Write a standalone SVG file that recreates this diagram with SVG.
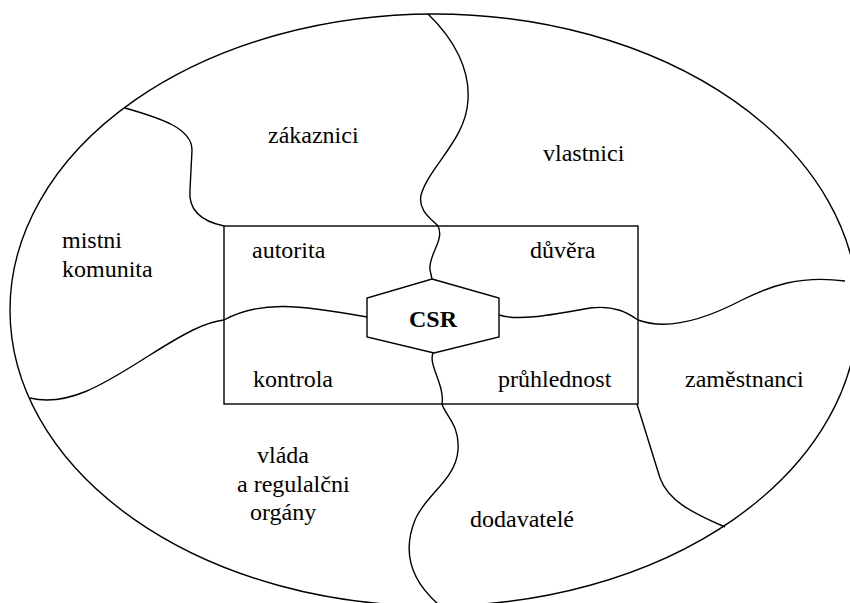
<svg xmlns="http://www.w3.org/2000/svg" width="850" height="603" viewBox="0 0 850 603">
<style>
.ln{fill:none;stroke:#000;stroke-width:1.4}
.t{font-family:"Liberation Serif","Times New Roman",serif;font-size:24px;fill:#000}
.b{font-weight:bold}
</style>
<rect width="850" height="603" fill="#fff"/>
<g id="outer">
<ellipse class="ln" cx="434" cy="310" rx="424" ry="296"/>
</g>
<g id="inner-box">
<rect class="ln" x="224" y="226" width="414" height="178"/>
</g>
<g id="connectors">
<path class="ln" d="M125,108 C160,118 192,128 192,150 L190,190 C188,212 205,222 224,226"/>
<path class="ln" d="M428,14 C455,40 470,70 468,100 C466,140 430,165 421,195 C418,210 430,218 438,226 C445,240 428,255 430,270 L432,279"/>
<path class="ln" d="M30,398 C70,408 110,380 150,355 C185,333 205,322 224,320 C260,300 300,305 367,317"/>
<path class="ln" d="M499,315 C520,322 560,313 590,308 C615,305 628,313 638,320 C665,330 700,322 742,300 C770,286 800,275 845,281"/>
<path class="ln" d="M433,353 C428,365 445,385 442,404 C445,415 460,425 458,450 C456,480 425,495 415,520 C405,545 405,575 438,604"/>
<path class="ln" d="M637,404 L660,478 C668,500 690,512 725,527"/>
</g>
<g id="csr">
<polygon class="ln" fill="#fff" points="432,279 499,298 499,337 434,353 367,337 367,298"/>
<text class="t b" x="433" y="327" text-anchor="middle">CSR</text>
</g>
<g id="zakaznici"><text class="t" x="268" y="143">zákaznici</text></g>
<g id="vlastnici"><text class="t" x="543" y="161">vlastnici</text></g>
<g id="mistni-komunita"><text class="t" x="62" y="248">mistni</text><text class="t" x="62" y="277">komunita</text></g>
<g id="autorita"><text class="t" x="252" y="258">autorita</text></g>
<g id="duvera"><text class="t" x="530" y="258">důvěra</text></g>
<g id="kontrola"><text class="t" x="253" y="387">kontrola</text></g>
<g id="pruhlednost"><text class="t" x="498" y="387">průhlednost</text></g>
<g id="zamestnanci"><text class="t" x="685" y="387">zaměstnanci</text></g>
<g id="vlada"><text class="t" x="257" y="463">vláda</text><text class="t" x="237" y="492">a regulalčni</text><text class="t" x="250" y="520">orgány</text></g>
<g id="dodavatele"><text class="t" x="470" y="527">dodavatelé</text></g>
</svg>
